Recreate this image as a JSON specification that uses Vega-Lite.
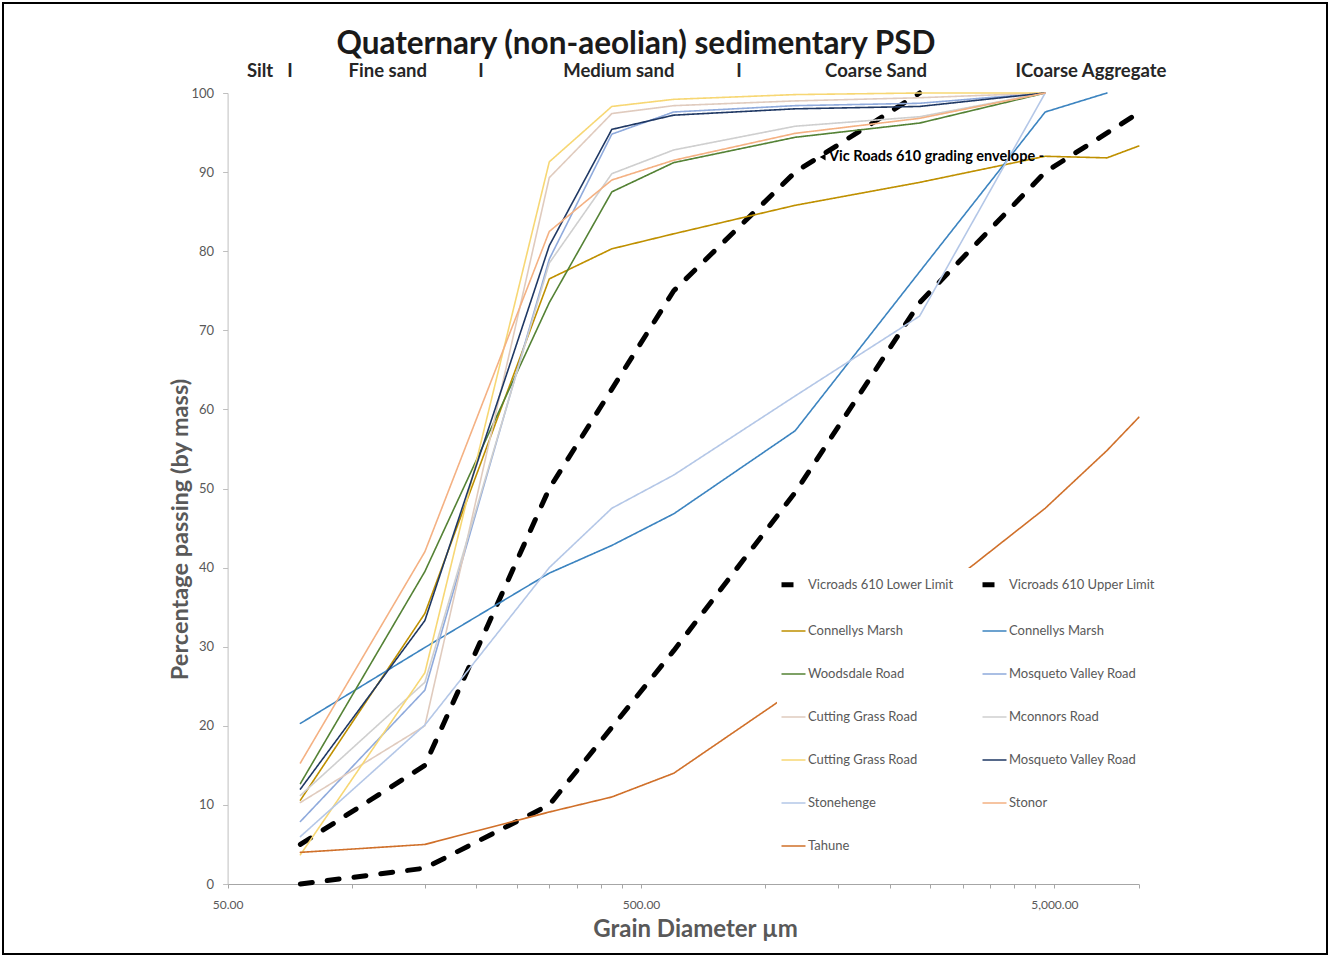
{
  "$schema": "https://vega.github.io/schema/vega-lite/v6.json",
  "width": 1324,
  "height": 951,
  "padding": 3,
  "autosize": {"type": "none"},
  "background": "white",
  "config": {
    "view": {"stroke": "#000000", "strokeWidth": 2},
    "font": "Lato",
    "legend": {
      "orient": "none",
      "legendX": 774,
      "legendY": 565,
      "columns": 2,
      "fillColor": "white",
      "padding": 2,
      "labelFont": "Lato",
      "labelFontSize": 13,
      "labelColor": "#595959",
      "symbolType": "stroke",
      "symbolSize": 576,
      "rowPadding": 23,
      "columnPadding": 18,
      "labelOffset": 0,
      "labelLimit": 300
    }
  },
  "datasets": {
    "minorgrid": [{"d": 100}, {"d": 150}, {"d": 200}, {"d": 250}, {"d": 300}, {"d": 350}, {"d": 400}, {"d": 450}, {"d": 1000}, {"d": 1500}, {"d": 2000}, {"d": 2500}, {"d": 3000}, {"d": 3500}, {"d": 4000}, {"d": 4500}],
    "majorgrid": [{"d": 500}, {"d": 5000}, {"d": 8000}],
    "psd": [
      {"series": "Vicroads 610 Lower Limit", "d": 75, "p": 0},
      {"series": "Vicroads 610 Lower Limit", "d": 150, "p": 2},
      {"series": "Vicroads 610 Lower Limit", "d": 300, "p": 10},
      {"series": "Vicroads 610 Lower Limit", "d": 600, "p": 29.5},
      {"series": "Vicroads 610 Lower Limit", "d": 1180, "p": 49.5},
      {"series": "Vicroads 610 Lower Limit", "d": 2360, "p": 73.5},
      {"series": "Vicroads 610 Lower Limit", "d": 4750, "p": 90},
      {"series": "Vicroads 610 Lower Limit", "d": 8000, "p": 97.5},
      {"series": "Vicroads 610 Upper Limit", "d": 75, "p": 5},
      {"series": "Vicroads 610 Upper Limit", "d": 150, "p": 15},
      {"series": "Vicroads 610 Upper Limit", "d": 300, "p": 50},
      {"series": "Vicroads 610 Upper Limit", "d": 600, "p": 75},
      {"series": "Vicroads 610 Upper Limit", "d": 1180, "p": 90},
      {"series": "Vicroads 610 Upper Limit", "d": 2360, "p": 100},
      {"series": "Connellys Marsh", "d": 75, "p": 10.6},
      {"series": "Connellys Marsh", "d": 150, "p": 34.2},
      {"series": "Connellys Marsh", "d": 300, "p": 76.5},
      {"series": "Connellys Marsh", "d": 425, "p": 80.3},
      {"series": "Connellys Marsh", "d": 600, "p": 82.2},
      {"series": "Connellys Marsh", "d": 1180, "p": 85.8},
      {"series": "Connellys Marsh", "d": 2360, "p": 88.7},
      {"series": "Connellys Marsh", "d": 4750, "p": 92},
      {"series": "Connellys Marsh", "d": 6700, "p": 91.8},
      {"series": "Connellys Marsh", "d": 8000, "p": 93.3},
      {"series": "Connellys Marsh ", "d": 75, "p": 20.3},
      {"series": "Connellys Marsh ", "d": 150, "p": 29.9},
      {"series": "Connellys Marsh ", "d": 300, "p": 39.3},
      {"series": "Connellys Marsh ", "d": 425, "p": 42.8},
      {"series": "Connellys Marsh ", "d": 600, "p": 46.8},
      {"series": "Connellys Marsh ", "d": 1180, "p": 57.3},
      {"series": "Connellys Marsh ", "d": 2360, "p": 77.4},
      {"series": "Connellys Marsh ", "d": 4750, "p": 97.6},
      {"series": "Connellys Marsh ", "d": 6700, "p": 100},
      {"series": "Woodsdale Road", "d": 75, "p": 12.7},
      {"series": "Woodsdale Road", "d": 150, "p": 39.5},
      {"series": "Woodsdale Road", "d": 300, "p": 73.5},
      {"series": "Woodsdale Road", "d": 425, "p": 87.5},
      {"series": "Woodsdale Road", "d": 600, "p": 91.2},
      {"series": "Woodsdale Road", "d": 1180, "p": 94.4},
      {"series": "Woodsdale Road", "d": 2360, "p": 96.2},
      {"series": "Woodsdale Road", "d": 4750, "p": 100},
      {"series": "Mosqueto Valley Road", "d": 75, "p": 7.9},
      {"series": "Mosqueto Valley Road", "d": 150, "p": 24.5},
      {"series": "Mosqueto Valley Road", "d": 300, "p": 79},
      {"series": "Mosqueto Valley Road", "d": 425, "p": 94.8},
      {"series": "Mosqueto Valley Road", "d": 600, "p": 97.6},
      {"series": "Mosqueto Valley Road", "d": 1180, "p": 98.4},
      {"series": "Mosqueto Valley Road", "d": 2360, "p": 98.7},
      {"series": "Mosqueto Valley Road", "d": 4750, "p": 100},
      {"series": "Cutting Grass Road", "d": 75, "p": 10.3},
      {"series": "Cutting Grass Road", "d": 150, "p": 20},
      {"series": "Cutting Grass Road", "d": 300, "p": 89.3},
      {"series": "Cutting Grass Road", "d": 425, "p": 97.4},
      {"series": "Cutting Grass Road", "d": 600, "p": 98.4},
      {"series": "Cutting Grass Road", "d": 1180, "p": 99},
      {"series": "Cutting Grass Road", "d": 2360, "p": 99.4},
      {"series": "Cutting Grass Road", "d": 4750, "p": 100},
      {"series": "Mconnors Road", "d": 75, "p": 11.2},
      {"series": "Mconnors Road", "d": 150, "p": 25.5},
      {"series": "Mconnors Road", "d": 300, "p": 78.5},
      {"series": "Mconnors Road", "d": 425, "p": 89.8},
      {"series": "Mconnors Road", "d": 600, "p": 92.8},
      {"series": "Mconnors Road", "d": 1180, "p": 95.8},
      {"series": "Mconnors Road", "d": 2360, "p": 97},
      {"series": "Mconnors Road", "d": 4750, "p": 100},
      {"series": "Cutting Grass Road ", "d": 75, "p": 3.7},
      {"series": "Cutting Grass Road ", "d": 150, "p": 26.7},
      {"series": "Cutting Grass Road ", "d": 300, "p": 91.3},
      {"series": "Cutting Grass Road ", "d": 425, "p": 98.3},
      {"series": "Cutting Grass Road ", "d": 600, "p": 99.2},
      {"series": "Cutting Grass Road ", "d": 1180, "p": 99.8},
      {"series": "Cutting Grass Road ", "d": 2360, "p": 100},
      {"series": "Cutting Grass Road ", "d": 4750, "p": 100},
      {"series": "Mosqueto Valley Road ", "d": 75, "p": 12},
      {"series": "Mosqueto Valley Road ", "d": 150, "p": 33.3},
      {"series": "Mosqueto Valley Road ", "d": 300, "p": 80.7},
      {"series": "Mosqueto Valley Road ", "d": 425, "p": 95.4},
      {"series": "Mosqueto Valley Road ", "d": 600, "p": 97.2},
      {"series": "Mosqueto Valley Road ", "d": 1180, "p": 98},
      {"series": "Mosqueto Valley Road ", "d": 2360, "p": 98.3},
      {"series": "Mosqueto Valley Road ", "d": 4750, "p": 100},
      {"series": "Stonehenge", "d": 75, "p": 6},
      {"series": "Stonehenge", "d": 150, "p": 20.1},
      {"series": "Stonehenge", "d": 300, "p": 40},
      {"series": "Stonehenge", "d": 425, "p": 47.5},
      {"series": "Stonehenge", "d": 600, "p": 51.7},
      {"series": "Stonehenge", "d": 1180, "p": 61.7},
      {"series": "Stonehenge", "d": 2360, "p": 71.8},
      {"series": "Stonehenge", "d": 4750, "p": 100},
      {"series": "Stonor", "d": 75, "p": 15.3},
      {"series": "Stonor", "d": 150, "p": 42},
      {"series": "Stonor", "d": 300, "p": 82.5},
      {"series": "Stonor", "d": 425, "p": 89},
      {"series": "Stonor", "d": 600, "p": 91.5},
      {"series": "Stonor", "d": 1180, "p": 94.9},
      {"series": "Stonor", "d": 2360, "p": 96.8},
      {"series": "Stonor", "d": 4750, "p": 100},
      {"series": "Tahune", "d": 75, "p": 4},
      {"series": "Tahune", "d": 150, "p": 5},
      {"series": "Tahune", "d": 300, "p": 9.1},
      {"series": "Tahune", "d": 425, "p": 11},
      {"series": "Tahune", "d": 600, "p": 14},
      {"series": "Tahune", "d": 1180, "p": 24.5},
      {"series": "Tahune", "d": 2360, "p": 35},
      {"series": "Tahune", "d": 4750, "p": 47.5},
      {"series": "Tahune", "d": 6700, "p": 54.8},
      {"series": "Tahune", "d": 8000, "p": 59}
    ],
    "titletext": [{"label": "Quaternary (non-aeolian) sedimentary PSD", "d": 486, "p": 106.1}],
    "classes": [
      {"label": "Silt", "d": 59.9, "p": 102.8},
      {"label": "I", "d": 70.8, "p": 102.8},
      {"label": "Fine sand", "d": 122, "p": 102.8},
      {"label": "I", "d": 205, "p": 102.8},
      {"label": "Medium sand", "d": 442, "p": 102.8},
      {"label": "I", "d": 863, "p": 102.8},
      {"label": "Coarse Sand", "d": 1851, "p": 102.8},
      {"label": "ICoarse Aggregate", "d": 6130, "p": 102.8}
    ],
    "envelope": [{"label": "Vic Roads 610  grading envelope -", "d": 1425, "p": 91.9}],
    "arrow": [{"d": 1375, "p": 91.9}]
  },
  "encoding": {
    "x": {
      "field": "d", "type": "quantitative",
      "scale": {"type": "log", "domain": [50, 8000], "range": [224.6, 1135.8], "nice": false},
      "axis": {
        "values": [50, 100, 150, 200, 250, 300, 350, 400, 450, 500, 1000, 1500, 2000, 2500, 3000, 3500, 4000, 4500, 5000, 8000],
        "labelExpr": "datum.value == 50 ? '50.00' : datum.value == 500 ? '500.00' : datum.value == 5000 ? '5,000.00' : ''",
        "offset": -70,
        "grid": false,
        "tickSize": 4,
        "tickColor": "#A6A6A6",
        "domainColor": "#A6A6A6",
        "labelPadding": 11,
        "labelFlush": false,
        "labelOverlap": false,
        "labelBound": false,
        "labelFont": "Lato",
        "labelFontSize": 12,
        "labelColor": "#595959",
        "title": "Grain Diameter µm",
        "titleX": 692,
        "titleY": 45,
        "titleAlign": "center",
        "titleBaseline": "middle",
        "titleFont": "Lato",
        "titleFontSize": 24,
        "titleFontWeight": "bold",
        "titleColor": "#595959"
      }
    },
    "y": {
      "field": "p", "type": "quantitative",
      "scale": {"domain": [0, 100], "range": [881, 90], "nice": false, "zero": false},
      "axis": {
        "values": [0, 10, 20, 30, 40, 50, 60, 70, 80, 90, 100],
        "offset": -224.6,
        "grid": false,
        "tickSize": 5,
        "tickColor": "#BFBFBF",
        "domainColor": "#BFBFBF",
        "labelPadding": 9,
        "labelFont": "Lato",
        "labelFontSize": 13,
        "labelColor": "#595959",
        "title": "Percentage  passing (by mass)",
        "titleX": -47.6,
        "titleY": 526,
        "titleAngle": -90,
        "titleAlign": "center",
        "titleBaseline": "middle",
        "titleFont": "Lato",
        "titleFontSize": 23.5,
        "titleFontWeight": "bold",
        "titleColor": "#595959"
      }
    }
  },
  "layer": [
    {
      "data": {"name": "minorgrid"},
      "mark": {"type": "rule", "color": "#EDEDED", "strokeWidth": 1},
      "encoding": {
        "y": {"datum": 0, "type": "quantitative"},
        "y2": {"datum": 100}
      }
    },
    {
      "data": {"name": "majorgrid"},
      "mark": {"type": "rule", "color": "#D9D9D9", "strokeWidth": 1},
      "encoding": {
        "y": {"datum": 0, "type": "quantitative"},
        "y2": {"datum": 100}
      }
    },
    {
      "data": {"name": "psd"},
      "mark": {"type": "line", "strokeCap": "round", "strokeJoin": "round"},
      "encoding": {
        "color": {
          "field": "series", "type": "nominal",
          "scale": {
            "domain": ["Vicroads 610 Lower Limit", "Connellys Marsh", "Woodsdale Road", "Cutting Grass Road", "Cutting Grass Road ", "Stonehenge", "Tahune", "Vicroads 610 Upper Limit", "Connellys Marsh ", "Mosqueto Valley Road", "Mconnors Road", "Mosqueto Valley Road ", "Stonor"],
            "range": ["#000000", "#BF9000", "#548235", "#E0CBBE", "#F7D774", "#B4C7E7", "#D0702A", "#000000", "#3C84C0", "#8FAADC", "#CFCFCF", "#1F3864", "#F4B183"]
          },
          "legend": {"title": null}
        },
        "strokeDash": {
          "field": "series", "type": "nominal",
          "scale": {
            "type": "ordinal",
            "domain": ["Vicroads 610 Lower Limit", "Connellys Marsh", "Woodsdale Road", "Cutting Grass Road", "Cutting Grass Road ", "Stonehenge", "Tahune", "Vicroads 610 Upper Limit", "Connellys Marsh ", "Mosqueto Valley Road", "Mconnors Road", "Mosqueto Valley Road ", "Stonor"],
            "range": [[12, 15], [1, 0], [1, 0], [1, 0], [1, 0], [1, 0], [1, 0], [12, 15], [1, 0], [1, 0], [1, 0], [1, 0], [1, 0]]
          },
          "legend": {"title": null}
        },
        "strokeWidth": {
          "field": "series", "type": "nominal",
          "scale": {
            "type": "ordinal",
            "domain": ["Vicroads 610 Lower Limit", "Connellys Marsh", "Woodsdale Road", "Cutting Grass Road", "Cutting Grass Road ", "Stonehenge", "Tahune", "Vicroads 610 Upper Limit", "Connellys Marsh ", "Mosqueto Valley Road", "Mconnors Road", "Mosqueto Valley Road ", "Stonor"],
            "range": [5, 1.6, 1.6, 1.6, 1.6, 1.6, 1.6, 5, 1.6, 1.6, 1.6, 1.6, 1.6]
          },
          "legend": {"title": null}
        }
      }
    },
    {
      "data": {"name": "titletext"},
      "mark": {"type": "text", "font": "Lato", "fontSize": 31.5, "fontWeight": "bold", "color": "#1A1A1A", "align": "center", "baseline": "middle"},
      "encoding": {"text": {"field": "label"}}
    },
    {
      "data": {"name": "classes"},
      "mark": {"type": "text", "font": "Lato", "fontSize": 18.5, "fontWeight": "bold", "color": "#262626", "align": "center", "baseline": "middle"},
      "encoding": {"text": {"field": "label"}}
    },
    {
      "data": {"name": "envelope"},
      "mark": {"type": "text", "font": "Lato", "fontSize": 14.5, "fontWeight": "bold", "color": "#000000", "align": "left", "baseline": "middle"},
      "encoding": {"text": {"field": "label"}}
    },
    {
      "data": {"name": "arrow"},
      "mark": {"type": "point", "shape": "triangle-left", "filled": true, "color": "#000000", "size": 45, "opacity": 1}
    }
  ]
}
